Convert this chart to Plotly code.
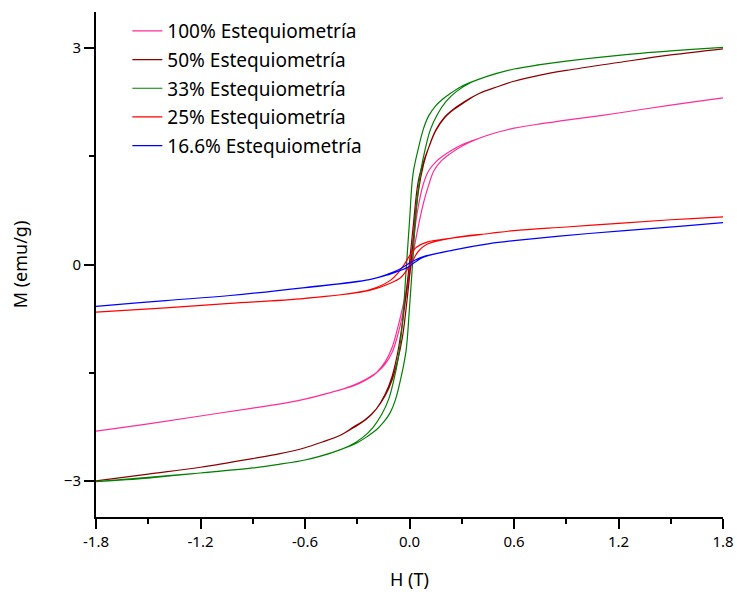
import plotly.graph_objects as go

# ---------------- data ----------------
names = ["100% Estequiometría", "50% Estequiometría", "33% Estequiometría",
         "25% Estequiometría", "16.6% Estequiometría"]
colors = ["#FF2D95", "#8B0000", "#008000", "#FF0000", "#0000FF"]

# 100 %
h100_down = [1.8, 1.5, 1.2, 0.9, 0.75, 0.6, 0.5, 0.4, 0.3, 0.24, 0.19, 0.15, 0.11, 0.08, 0.05, 0.02, -0.01, -0.04, -0.07, -0.1, -0.14, -0.19, -0.25, -0.32, -0.46, -0.6, -0.75, -0.9, -1.2, -1.5, -1.8]
m100_down = [2.31, 2.21, 2.10, 2.00, 1.95, 1.89, 1.83, 1.75, 1.66, 1.58, 1.50, 1.42, 1.30, 1.12, 0.8, 0.3, -0.25, -0.6, -0.9, -1.15, -1.35, -1.50, -1.60, -1.68, -1.78, -1.865, -1.935, -1.99, -2.10, -2.21, -2.31]
h100_up = [-1.8, -1.5, -1.2, -0.9, -0.75, -0.6, -0.46, -0.32, -0.25, -0.19, -0.14, -0.1, -0.07, -0.04, 0.0, 0.04, 0.08, 0.11, 0.14, 0.18, 0.23, 0.3, 0.4, 0.5, 0.6, 0.75, 0.9, 1.2, 1.5, 1.8]
m100_up = [-2.31, -2.21, -2.10, -1.99, -1.935, -1.865, -1.78, -1.67, -1.59, -1.50, -1.38, -1.22, -1.0, -0.7, -0.15, 0.4, 0.85, 1.1, 1.3, 1.43, 1.53, 1.64, 1.75, 1.83, 1.89, 1.95, 2.00, 2.10, 2.21, 2.31]

# 50 %
h50_down = [1.8, 1.5, 1.2, 0.9, 0.75, 0.6, 0.5, 0.4, 0.31, 0.25, 0.2, 0.15, 0.11, 0.08, 0.05, 0.02, -0.01, -0.04, -0.07, -0.1, -0.14, -0.19, -0.25, -0.32, -0.4, -0.5, -0.6, -0.75, -0.9, -1.2, -1.5, -1.8]
m50_down = [2.99, 2.905, 2.80, 2.69, 2.625, 2.54, 2.46, 2.37, 2.24, 2.14, 2.03, 1.85, 1.62, 1.42, 1.15, 0.5, -0.2, -0.8, -1.25, -1.55, -1.80, -2.0, -2.15, -2.26, -2.37, -2.46, -2.54, -2.625, -2.69, -2.81, -2.905, -3.0]
h50_up = [-1.8, -1.5, -1.2, -0.9, -0.75, -0.6, -0.5, -0.4, -0.32, -0.25, -0.19, -0.14, -0.1, -0.07, -0.04, -0.01, 0.02, 0.05, 0.08, 0.11, 0.15, 0.2, 0.25, 0.31, 0.4, 0.5, 0.6, 0.75, 0.9, 1.2, 1.5, 1.8]
m50_up = [-3.0, -2.905, -2.81, -2.69, -2.625, -2.54, -2.46, -2.37, -2.25, -2.14, -2.0, -1.82, -1.6, -1.35, -1.0, -0.4, 0.3, 1.0, 1.38, 1.62, 1.86, 2.04, 2.15, 2.25, 2.37, 2.46, 2.54, 2.625, 2.69, 2.80, 2.905, 2.99]

# 33 %
h33_down = [1.8, 1.5, 1.2, 0.9, 0.75, 0.6, 0.5, 0.4, 0.3, 0.24, 0.19, 0.15, 0.11, 0.08, 0.05, 0.02, 0.0, -0.02, -0.04, -0.065, -0.09, -0.12, -0.16, -0.21, -0.27, -0.35, -0.45, -0.6, -0.75, -0.9, -1.2, -1.5, -1.8]
m33_down = [3.01, 2.96, 2.90, 2.82, 2.77, 2.71, 2.65, 2.57, 2.47, 2.38, 2.29, 2.20, 2.06, 1.88, 1.60, 1.25, 0.6, -0.1, -0.8, -1.3, -1.6, -1.87, -2.08, -2.26, -2.40, -2.52, -2.61, -2.71, -2.77, -2.82, -2.89, -2.95, -3.01]
h33_up = [-1.8, -1.5, -1.2, -0.9, -0.75, -0.6, -0.5, -0.4, -0.3, -0.24, -0.19, -0.15, -0.11, -0.08, -0.05, -0.02, 0.0, 0.02, 0.04, 0.065, 0.09, 0.12, 0.16, 0.21, 0.27, 0.35, 0.45, 0.6, 0.75, 0.9, 1.2, 1.5, 1.8]
m33_up = [-3.01, -2.96, -2.89, -2.82, -2.77, -2.71, -2.65, -2.57, -2.47, -2.38, -2.29, -2.19, -2.05, -1.87, -1.58, -1.2, -0.6, 0.1, 0.8, 1.3, 1.6, 1.87, 2.08, 2.26, 2.40, 2.52, 2.61, 2.71, 2.77, 2.82, 2.90, 2.96, 3.01]

# 25 %
h25_down = [1.8, 1.5, 1.2, 0.9, 0.6, 0.46, 0.25, 0.1, 0.04, 0.0, -0.03, -0.06, -0.11, -0.23, -0.6, -1.03, -1.4, -1.8]
m25_down = [0.66, 0.62, 0.57, 0.52, 0.47, 0.43, 0.37, 0.31, 0.24, 0.12, 0.0, -0.1, -0.22, -0.35, -0.47, -0.54, -0.60, -0.66]
h25_up = [-1.8, -1.4, -1.03, -0.6, -0.23, -0.11, -0.05, -0.01, 0.02, 0.05, 0.1, 0.25, 0.46, 0.6, 0.9, 1.2, 1.5, 1.8]
m25_up = [-0.66, -0.60, -0.54, -0.47, -0.36, -0.26, -0.18, -0.06, 0.06, 0.18, 0.28, 0.37, 0.43, 0.47, 0.52, 0.57, 0.62, 0.66]

# 16.6 %
h16_down = [1.8, 1.4, 1.03, 0.6, 0.46, 0.25, 0.08, 0.03, -0.02, -0.06, -0.12, -0.23, -0.6, -1.03, -1.4, -1.8]
m16_down = [0.58, 0.50, 0.43, 0.33, 0.29, 0.20, 0.11, 0.06, -0.01, -0.07, -0.13, -0.21, -0.32, -0.43, -0.50, -0.58]
h16_up = [-1.8, -1.4, -1.03, -0.6, -0.23, -0.12, -0.06, -0.01, 0.03, 0.08, 0.25, 0.46, 0.6, 1.03, 1.4, 1.8]
m16_up = [-0.58, -0.50, -0.43, -0.32, -0.21, -0.14, -0.09, -0.04, 0.03, 0.10, 0.20, 0.29, 0.33, 0.43, 0.50, 0.58]

x_ticks = [-1.8, -1.2, -0.6, 0.0, 0.6, 1.2, 1.8]
x_ticktext = ["-1.8", "-1.2", "-0.6", "0.0", "0.6", "1.2", "1.8"]
x_minor = [-1.5, -0.9, -0.3, 0.3, 0.9, 1.5]
y_ticks = [-3, 0, 3]
y_minor = [-1.5, 1.5]

series = [
    (h100_down + h100_up, m100_down + m100_up),
    (h50_down + h50_up, m50_down + m50_up),
    (h33_down + h33_up, m33_down + m33_up),
    (h25_down + h25_up, m25_down + m25_up),
    (h16_down + h16_up, m16_down + m16_up),
]

FONT = "Noto Sans"
fig = go.Figure()
for i, ((hx, my), nm, col) in enumerate(zip(series, names, colors)):
    fig.add_trace(go.Scatter(
        x=hx, y=my, mode="lines", name=nm, legendgroup=str(i),
        line=dict(color=col, width=1.2, shape="spline", smoothing=1.0),
    ))

fig.update_layout(
    width=737, height=592,
    margin=dict(l=96, r=14, t=12, b=75, autoexpand=False),
    paper_bgcolor="white", plot_bgcolor="white",
    font=dict(family=FONT, color="black"),
    showlegend=True,
    legend=dict(
        x=0.05, y=1.0, xanchor="left", yanchor="top",
        bgcolor="rgba(0,0,0,0)", borderwidth=0,
        font=dict(family=FONT, size=19, color="black"),
        tracegroupgap=1,
    ),
    xaxis=dict(
        range=[-1.8, 1.8], tickmode="array", tickvals=x_ticks, ticktext=x_ticktext,
        ticks="outside", ticklen=10, tickwidth=2, tickcolor="black",
        showline=True, linecolor="black", linewidth=2, mirror=False,
        showgrid=False, zeroline=False, automargin=False,
        tickfont=dict(family=FONT, size=15, color="black"),
        minor=dict(ticks="outside", ticklen=5, tickwidth=2, tickcolor="black",
                   tickvals=x_minor, showgrid=False),
        title=dict(text="H (T)", font=dict(family=FONT, size=18, color="black"), standoff=23),
    ),
    yaxis=dict(
        range=[-3.5, 3.5], tickmode="array", tickvals=y_ticks,
        ticks="outside", ticklen=10, tickwidth=2, tickcolor="black",
        showline=True, linecolor="black", linewidth=2, mirror=False,
        showgrid=False, zeroline=False, automargin=False,
        tickfont=dict(family=FONT, size=15, color="black"),
        minor=dict(ticks="outside", ticklen=5, tickwidth=2, tickcolor="black",
                   tickvals=y_minor, showgrid=False),
        title=dict(text="M (emu/g)", font=dict(family=FONT, size=18, color="black"), standoff=32),
    ),
)

fig.write_html("out.html")
